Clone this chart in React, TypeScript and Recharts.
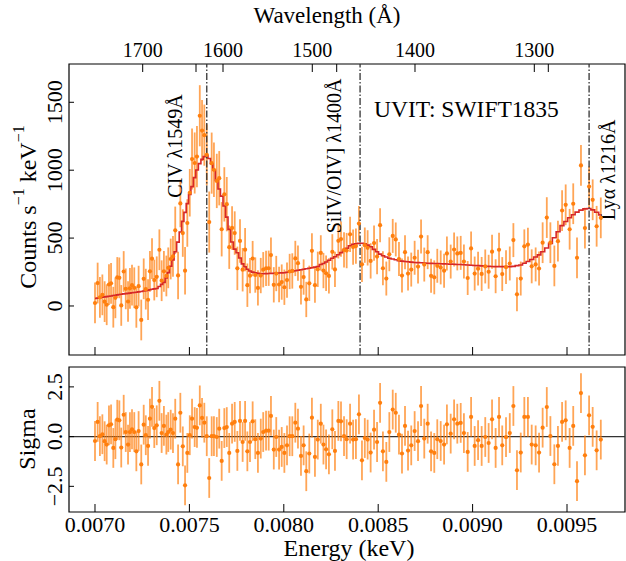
import React from 'react';
import {
  ComposedChart,
  Scatter,
  Line,
  XAxis,
  YAxis,
  ErrorBar,
  ReferenceLine,
  ReferenceArea,
} from 'recharts';

const FONT = '"Liberation Serif", "Times New Roman", serif';
const ORANGE = '#ff7f0e';
const BAR = 'rgba(255,127,14,0.7)';
const RED = '#d62728';

// energy of each spectral bin (keV)
const energy = [
  0.007000, 0.007014, 0.007026, 0.007039, 0.007051, 0.007062, 0.007074, 0.007085, 0.007097, 0.007108,
  0.007118, 0.007129, 0.007139, 0.007152, 0.007163, 0.007175, 0.007185, 0.007196, 0.007208, 0.007219,
  0.007231, 0.007245, 0.007258, 0.007269, 0.007281, 0.007291, 0.007302, 0.007314, 0.007327, 0.007341,
  0.007353, 0.007365, 0.007378, 0.007388, 0.007401, 0.007413, 0.007425, 0.007440, 0.007452, 0.007465,
  0.007477, 0.007489, 0.007502, 0.007514, 0.007528, 0.007540, 0.007555, 0.007567, 0.007579, 0.007592,
  0.007605, 0.007618, 0.007630, 0.007645, 0.007658, 0.007671, 0.007685, 0.007698, 0.007711, 0.007726,
  0.007740, 0.007754, 0.007768, 0.007782, 0.007795, 0.007807, 0.007821, 0.007835, 0.007849, 0.007863,
  0.007878, 0.007891, 0.007906, 0.007920, 0.007932, 0.007947, 0.007960, 0.007975, 0.007989, 0.008003,
  0.008017, 0.008031, 0.008045, 0.008061, 0.008075, 0.008091, 0.008105, 0.008119, 0.008135, 0.008149,
  0.008165, 0.008180, 0.008196, 0.008210, 0.008224, 0.008239, 0.008257, 0.008271, 0.008289, 0.008303,
  0.008319, 0.008333, 0.008351, 0.008367, 0.008382, 0.008398, 0.008414, 0.008429, 0.008444, 0.008460,
  0.008478, 0.008494, 0.008510, 0.008525, 0.008543, 0.008559, 0.008577, 0.008593, 0.008610, 0.008626,
  0.008642, 0.008658, 0.008675, 0.008693, 0.008711, 0.008727, 0.008744, 0.008762, 0.008780, 0.008797,
  0.008813, 0.008831, 0.008849, 0.008864, 0.008884, 0.008902, 0.008919, 0.008937, 0.008954, 0.008974,
  0.008992, 0.009011, 0.009029, 0.009048, 0.009067, 0.009085, 0.009103, 0.009122, 0.009140, 0.009157,
  0.009177, 0.009197, 0.009216, 0.009235, 0.009255, 0.009274, 0.009293, 0.009313, 0.009334, 0.009352,
  0.009371, 0.009393, 0.009412, 0.009433, 0.009452, 0.009474, 0.009493, 0.009514, 0.009533, 0.009553,
  0.009574, 0.009595, 0.009617, 0.009636, 0.009657, 0.009679,
];

// counts s^-1 keV^-1
const counts = [
  22, 169, 64, 82, 32, 9, 158, 167, -9, 60,
  210, 207, 4, 254, 126, 33, 130, 153, 134, -10,
  146, -103, 200, 124, 46, 255, 348, 191, 215, 414,
  186, 255, 221, 281, 346, 366, 557, 225, 755, 537,
  260, 611, 834, 1082, 1053, 1100, 1401, 1292, 1258, 1113,
  618, 1052, 1003, 921, 941, 565, 822, 750, 433, 575,
  537, 277, 479, 267, 415, 153, 223, 349, 228, 133,
  224, 267, 277, 278, 375, 156, 239, 158, 176, 138,
  191, 254, 258, 350, 315, 141, 213, 48, 167, 406,
  153, 270, 391, 261, 241, 221, 399, 269, 480, 493,
  413, 408, 528, 434, 441, 607, 307, 448, 428, 332,
  463, 364, 595, 278, 202, 381, 516, 490, 346, 224,
  396, 239, 268, 355, 290, 511, 305, 396, 222, 211,
  296, 284, 260, 387, 327, 416, 387, 391, 327, 206,
  424, 239, 275, 236, 291, 252, 400, 219, 414, 235,
  286, 313, 485, 86, 202, 439, 452, 292, 306, 276,
  466, 651, 466, 295, 477, 703, 745, 565, 753, 355,
  1035, 574, 879, 782, 587, 649,
];

// 1-sigma error on counts
const countErr = [
  150, 150, 150, 150, 150, 150, 150, 150, 150, 150,
  150, 150, 150, 150, 150, 150, 150, 150, 150, 150,
  150, 150, 150, 150, 150, 150, 150, 150, 150, 150,
  150, 150, 150, 150, 150, 150, 175, 175, 175, 175,
  175, 175, 175, 225, 225, 225, 225, 225, 225, 225,
  225, 225, 200, 200, 200, 200, 200, 200, 160, 160,
  160, 160, 160, 160, 160, 160, 130, 130, 130, 130,
  130, 130, 130, 130, 130, 130, 130, 130, 130, 130,
  130, 130, 130, 130, 130, 130, 130, 130, 130, 130,
  130, 130, 130, 130, 130, 130, 130, 130, 130, 130,
  130, 130, 130, 130, 130, 130, 130, 130, 130, 130,
  130, 130, 125, 125, 125, 125, 125, 125, 125, 125,
  125, 125, 125, 125, 125, 125, 125, 125, 125, 125,
  125, 125, 125, 125, 125, 125, 125, 125, 125, 125,
  125, 125, 125, 125, 125, 125, 125, 125, 125, 125,
  125, 125, 125, 125, 125, 125, 125, 125, 125, 125,
  150, 150, 150, 150, 150, 150, 150, 150, 150, 150,
  150, 150, 150, 150, 150, 150,
];

// folded model
const model = [
  55, 58, 61, 64, 67, 69, 72, 74, 77, 79,
  82, 84, 86, 89, 91, 93, 95, 97, 99, 101,
  104, 107, 110, 113, 116, 120, 123, 126, 129, 144,
  159, 174, 206, 246, 293, 339, 399, 470, 545, 623,
  689, 754, 822, 879, 945, 1001, 1048, 1080, 1100, 1108,
  1086, 1047, 999, 925, 861, 809, 736, 654, 564, 471,
  419, 392, 353, 310, 289, 271, 258, 249, 245, 240,
  237, 237, 238, 239, 240, 241, 242, 243, 244, 245,
  248, 251, 255, 259, 263, 267, 270, 274, 278, 282,
  286, 290, 306, 313, 324, 337, 351, 363, 377, 393,
  410, 425, 443, 454, 458, 461, 462, 457, 448, 436,
  417, 399, 382, 370, 361, 352, 346, 340, 333, 330,
  328, 326, 323, 320, 319, 318, 317, 315, 314, 313,
  312, 311, 310, 309, 308, 307, 306, 305, 304, 302,
  300, 298, 297, 295, 293, 292, 291, 290, 290, 290,
  290, 290, 292, 297, 302, 315, 328, 342, 361, 376,
  399, 427, 461, 503, 547, 592, 622, 650, 672, 691,
  706, 715, 718, 708, 690, 671,
];

// residuals (data - model) / error
const sigma = [
  -0.22, 0.74, 0.02, 0.12, -0.23, -0.40, 0.57, 0.62, -0.57, -0.13,
  0.85, 0.82, -0.55, 1.10, 0.23, -0.40, 0.23, 0.37, 0.23, -0.74,
  0.28, -1.40, 0.60, 0.07, -0.47, 0.90, 1.50, 0.43, 0.57, 1.80,
  0.18, 0.54, 0.10, 0.23, 0.35, 0.18, 0.90, -1.40, 1.20, -0.49,
  -2.45, -0.82, 0.07, 0.90, 0.48, 0.44, 1.57, 0.94, 0.70, 0.02,
  -2.08, 0.02, 0.02, -0.02, 0.40, -1.22, 0.43, 0.48, -0.82, 0.65,
  0.74, -0.72, 0.79, -0.27, 0.79, -0.74, -0.27, 0.77, -0.13, -0.82,
  -0.10, 0.23, 0.30, 0.30, 1.04, -0.65, -0.02, -0.65, -0.52, -0.82,
  -0.44, 0.02, 0.02, 0.70, 0.40, -0.97, -0.44, -1.74, -0.85, 0.95,
  -1.02, -0.15, 0.65, -0.40, -0.64, -0.89, 0.37, -0.72, 0.79, 0.77,
  0.02, -0.13, 0.65, -0.15, -0.13, 1.12, -1.19, -0.07, -0.15, -0.80,
  0.35, -0.27, 1.70, -0.74, -1.27, 0.23, 1.36, 1.20, 0.10, -0.85,
  0.54, -0.70, -0.44, 0.28, -0.23, 1.54, -0.10, 0.65, -0.74, -0.82,
  -0.13, -0.22, -0.40, 0.62, 0.15, 0.87, 0.65, 0.69, 0.18, -0.77,
  0.99, -0.47, -0.18, -0.47, -0.02, -0.32, 0.87, -0.57, 0.99, -0.44,
  -0.03, 0.18, 1.54, -1.69, -0.80, 0.99, 0.99, -0.40, -0.44, -0.80,
  0.45, 1.49, 0.03, -1.39, -0.47, 0.74, 0.82, -0.57, 0.54, -2.24,
  2.19, -0.94, 1.07, 0.49, -0.69, -0.15,
];

const energyTicks = [0.007, 0.0075, 0.008, 0.0085, 0.009, 0.0095];
const countTicks = [0, 500, 1000, 1500];
const sigmaTicks = [-2.5, 0, 2.5];
const wavelengthLabels = ['1700', '1600', '1500', '1400', '1300'];
const wavelengthTickEnergy = [0.0072526, 0.007678, 0.0081509, 0.0086949, 0.0093268];
const extraTopTickEnergy = [0.007535, 0.0082802, 0.009401];

const lineEnergy = [0.007592, 0.008404, 0.009617];
const lineNames = ['CIV λ1549Å', 'SiIV/OIV] λ1400Å', 'Lyα λ1216Å'];

const X_DOMAIN: [number, number] = [0.0068623, 0.0098072];
const COUNT_DOMAIN: [number, number] = [-361, 1782];
const SIGMA_DOMAIN: [number, number] = [-3.79, 3.5];

// label placement relative to each line (px)
const lineLabelDx = [-25, -19, 26];
const lineLabelY = [146, 156, 170];

const topData = energy.map((e, i) => ({ e, c: counts[i], err: countErr[i], m: model[i] }));
const resData = energy.map((e, i) => ({ e, s: sigma[i], se: 1 }));
const topAxisTicks = [...wavelengthTickEnergy, ...extraTopTickEnergy].sort((a, b) => a - b);

const Dot = (p: any) => <circle cx={p.cx} cy={p.cy} r={2.1} fill={ORANGE} />;

const xTick = (withLabel: boolean) => (p: any) => {
  const { x, y, payload } = p;
  return (
    <g>
      <line x1={x} x2={x} y1={y} y2={y - 8} stroke="#000" strokeWidth={1} />
      {withLabel && (
        <text x={x} y={y + 20} textAnchor="middle" fontSize={22} fontFamily={FONT} fill="#000">
          {Number(payload.value).toFixed(4)}
        </text>
      )}
    </g>
  );
};

const topTick = (p: any) => {
  const { x, y, payload } = p;
  const idx = wavelengthTickEnergy.indexOf(payload.value);
  return (
    <g>
      <line x1={x} x2={x} y1={y} y2={y + 8} stroke="#000" strokeWidth={1} />
      {idx >= 0 && (
        <text x={x} y={y - 7} textAnchor="middle" fontSize={20} fontFamily={FONT} fill="#000">
          {wavelengthLabels[idx]}
        </text>
      )}
    </g>
  );
};

const yTick = (fmt: (v: number) => string) => (p: any) => {
  const { x, y, payload } = p;
  const tx = x - 7;
  return (
    <g>
      <line x1={x} x2={x + 5} y1={y} y2={y} stroke="#000" strokeWidth={1} />
      <text
        x={tx}
        y={y}
        transform={`rotate(-90, ${tx}, ${y})`}
        textAnchor="middle"
        fontSize={22}
        fontFamily={FONT}
        fill="#000"
      >
        {fmt(payload.value)}
      </text>
    </g>
  );
};

const lineLabel = (i: number) => (p: any) => {
  const vb = p.viewBox || {};
  const x = (vb.x ?? 0) + lineLabelDx[i];
  const y = lineLabelY[i];
  return (
    <text
      x={x}
      y={y}
      transform={`rotate(-90, ${x}, ${y})`}
      textAnchor="middle"
      fontSize={20}
      fontFamily={FONT}
      fill="#000"
    >
      {lineNames[i]}
    </text>
  );
};

export default function App() {
  return (
    <div style={{ position: 'absolute', left: 0, top: 0, width: 626, height: 561, background: '#fff', fontFamily: FONT }}>
      <div style={{ position: 'absolute', left: 0, top: 0 }}>
        <ComposedChart width={626} height={360} data={topData} margin={{ top: 0, right: 1, bottom: 0, left: 0 }}>
          <XAxis
            xAxisId="b"
            dataKey="e"
            type="number"
            domain={X_DOMAIN}
            allowDataOverflow
            ticks={energyTicks}
            interval={0}
            height={5}
            tickSize={0}
            tickMargin={0}
            axisLine={false}
            tick={xTick(false)}
          />
          <XAxis
            xAxisId="t"
            orientation="top"
            dataKey="e"
            type="number"
            domain={X_DOMAIN}
            allowDataOverflow
            ticks={topAxisTicks}
            interval={0}
            height={64}
            tickSize={0}
            tickMargin={0}
            axisLine={false}
            tick={topTick}
          />
          <YAxis
            yAxisId="l"
            type="number"
            domain={COUNT_DOMAIN}
            allowDataOverflow
            ticks={countTicks}
            interval={0}
            width={69}
            tickSize={0}
            tickMargin={0}
            axisLine={false}
            tick={yTick((v) => String(v))}
          />
          <ReferenceArea
            xAxisId="b"
            yAxisId="l"
            x1={X_DOMAIN[0]}
            x2={X_DOMAIN[1]}
            y1={COUNT_DOMAIN[0]}
            y2={COUNT_DOMAIN[1]}
            fill="none"
            fillOpacity={0}
            stroke="#000"
            strokeWidth={1.2}
            ifOverflow="visible"
          />
          <Scatter xAxisId="b" yAxisId="l" dataKey="c" shape={Dot} isAnimationActive={false}>
            <ErrorBar dataKey="err" direction="y" width={0} stroke={BAR} strokeWidth={1.8} isAnimationActive={false} />
          </Scatter>
          <Line
            xAxisId="b"
            yAxisId="l"
            dataKey="m"
            type="step"
            stroke={RED}
            strokeWidth={1.6}
            dot={false}
            activeDot={false}
            isAnimationActive={false}
          />
          {lineEnergy.map((e, i) => (
            <ReferenceLine
              key={e}
              xAxisId="b"
              yAxisId="l"
              x={e}
              stroke="#333"
              strokeWidth={1.3}
              strokeDasharray="7 2 1.5 2"
              label={lineLabel(i)}
            />
          ))}
        </ComposedChart>
      </div>
      <div style={{ position: 'absolute', left: 0, top: 357 }}>
        <ComposedChart width={626} height={204} data={resData} margin={{ top: 10, right: 1, bottom: 0, left: 0 }}>
          <XAxis
            xAxisId="b"
            dataKey="e"
            type="number"
            domain={X_DOMAIN}
            allowDataOverflow
            ticks={energyTicks}
            interval={0}
            height={49}
            tickSize={0}
            tickMargin={0}
            axisLine={false}
            tick={xTick(true)}
          />
          <YAxis
            yAxisId="l"
            type="number"
            domain={SIGMA_DOMAIN}
            allowDataOverflow
            ticks={sigmaTicks}
            interval={0}
            width={69}
            tickSize={0}
            tickMargin={0}
            axisLine={false}
            tick={yTick((v) => v.toFixed(1).replace('-', '\u2212'))}
          />
          <ReferenceArea
            xAxisId="b"
            yAxisId="l"
            x1={X_DOMAIN[0]}
            x2={X_DOMAIN[1]}
            y1={SIGMA_DOMAIN[0]}
            y2={SIGMA_DOMAIN[1]}
            fill="none"
            fillOpacity={0}
            stroke="#000"
            strokeWidth={1.2}
            ifOverflow="visible"
          />
          <ReferenceLine xAxisId="b" yAxisId="l" y={0} stroke="#333" strokeWidth={1.2} />
          <Scatter xAxisId="b" yAxisId="l" dataKey="s" shape={Dot} isAnimationActive={false}>
            <ErrorBar dataKey="se" direction="y" width={0} stroke={BAR} strokeWidth={1.8} isAnimationActive={false} />
          </Scatter>
        </ComposedChart>
      </div>
      <svg width={626} height={561} style={{ position: 'absolute', left: 0, top: 0, pointerEvents: 'none' }}>
        <g fontFamily={FONT} fill="#000">
          <text x={327} y={23} textAnchor="middle" fontSize={23}>Wavelength (Å)</text>
          <text x={349} y={556} textAnchor="middle" fontSize={24}>Energy (keV)</text>
          <text x={374} y={117} fontSize={23.5}>UVIT: SWIFT1835</text>
          <text x={36} y={207} transform="rotate(-90, 36, 207)" textAnchor="middle" fontSize={24}>
            Counts s<tspan dy={-12} fontSize={16}>−1</tspan>
            <tspan dy={12}>{'  keV'}</tspan>
            <tspan dy={-12} fontSize={16}>−1</tspan>
          </text>
          <text x={35} y={439} transform="rotate(-90, 35, 439)" textAnchor="middle" fontSize={24}>Sigma</text>
        </g>
      </svg>
    </div>
  );
}
